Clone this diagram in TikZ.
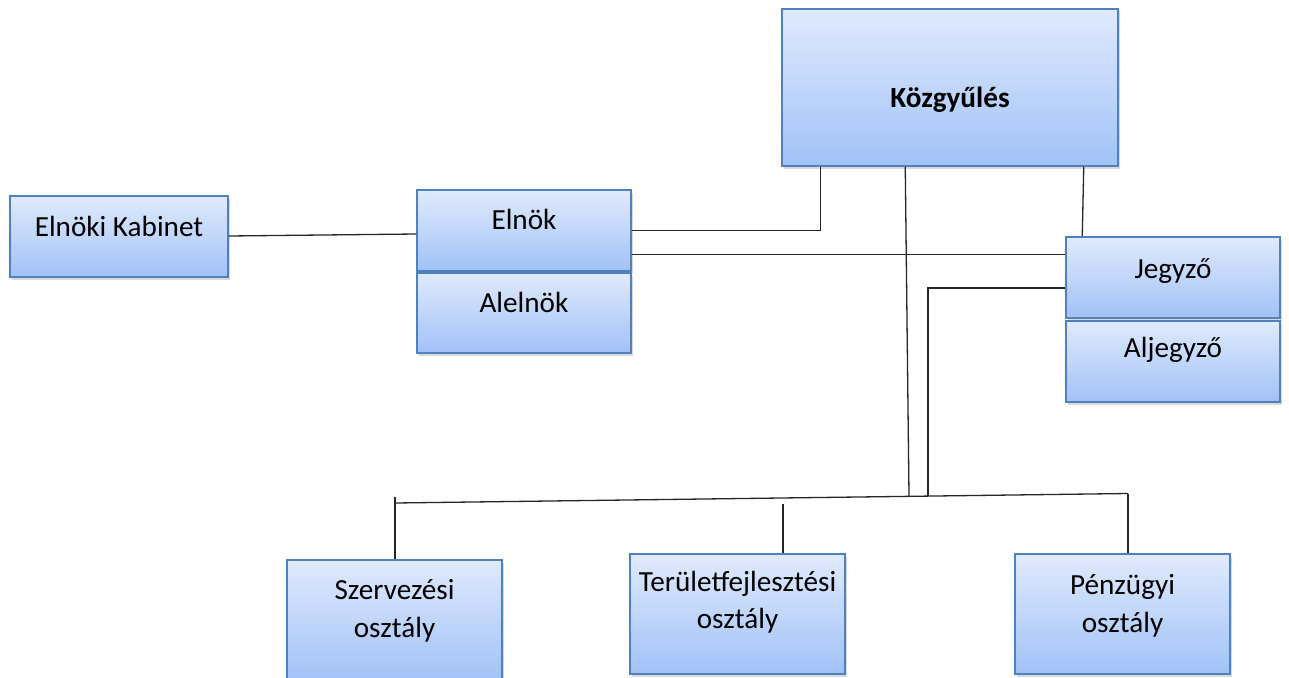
\documentclass[tikz,border=0pt]{standalone}
\usepackage{fontspec}
\setmainfont{Carlito}
\usetikzlibrary{calc,shadows}
\definecolor{boxtop}{RGB}{224,234,253}
\definecolor{boxbot}{RGB}{161,194,247}
\definecolor{boxline}{RGB}{79,129,189}
\tikzset{
  orgbox/.style={draw=boxline, line width=1.5pt, top color=boxtop, bottom color=boxbot,
    drop shadow={shadow xshift=2pt, shadow yshift=-2.5pt, opacity=0.3},
    inner sep=0pt, minimum width=214pt, minimum height=81pt},
  orgtext/.style={font=\fontsize{29.2}{37.5}\selectfont, align=center, inner sep=0pt},
  onetext/.style={orgtext, text height=0.7em, text depth=0.2em},
  wire/.style={line width=1.3pt, black!85},
}
\begin{document}
\begin{tikzpicture}[x=1pt, y=-1pt]
            \useasboundingbox (0,0) rectangle (1289,677);
            % boxes
            \node[orgbox, minimum width=336pt, minimum height=157pt,
                label={[onetext, font=\fontsize{29.2}{37.5}\selectfont\bfseries, yshift=-17.5pt]center:Közgyűlés}] (kozgy) at (950,87.5) {};
            \node[orgbox, minimum width=218pt, label={[onetext, yshift=2.5pt]center:Elnöki Kabinet}] (kabinet) at (119,236.5) {};
            \node[orgbox, label={[onetext, yshift=3.5pt]center:Elnök}] (elnok) at (524,230.5) {};
            \node[orgbox, minimum height=80pt, label={[onetext, yshift=3.5pt]center:Alelnök}] (alelnok) at (524,313) {};
            \node[orgbox, label={[onetext, yshift=1.5pt]center:Jegyző}] (jegyzo) at (1173,277.5) {};
            \node[orgbox, label={[onetext, yshift=7pt]center:Aljegyző}] (aljegyzo) at (1173,361.5) {};
            \node[orgbox, minimum width=215pt, minimum height=120pt, label={[orgtext, yshift=9pt]center:Szervezési\\osztály}] (szerv) at (394.5,620) {};
            \node[orgbox, minimum width=215pt, minimum height=120pt, label={[orgtext, yshift=12pt]center:Területfejlesztési\\osztály}] (terulet) at (737.5,614) {};
            \node[orgbox, minimum width=215pt, minimum height=120pt, label={[orgtext, yshift=8pt]center:Pénzügyi\\osztály}] (penz) at (1122.5,614) {};
            % bus
            \coordinate (busl) at (395,503);
            \coordinate (busr) at (1128,493.5);
            \coordinate (kzb) at (909,496);
            \coordinate (jgb) at (928,496);
            \coordinate (szt) at (395,497);
            \coordinate (tet) at (783,504);
            % connectors
            \draw[wire] ($(kabinet.east)+(0,-0.5)$) -- ($(elnok.west)+(0,3.5)$);
            \draw[wire] (elnok.east) -| ($(kozgy.south west)+(39,0)$);
            \draw[wire] ($(elnok.south east)+(0,-17)$) coordinate (e2) -- (e2 -| jegyzo.west);
            \draw[wire] ($(kozgy.south east)+(-35,0)$) -- ($(jegyzo.north west)+(17,0)$);
            \draw[wire] ($(kozgy.south west)+(124,0)$) -- (kzb);
            \draw[wire] ($(jegyzo.west)+(0,10.5)$) -| (jgb);
            \draw[wire] (busl) -- (busr);
            \draw[wire] (szt) -- (szt |- szerv.north);
            \draw[wire] (tet) -- (tet |- terulet.north);
            \draw[wire] (busr) -- (busr |- penz.north);
\end{tikzpicture}
\end{document}
